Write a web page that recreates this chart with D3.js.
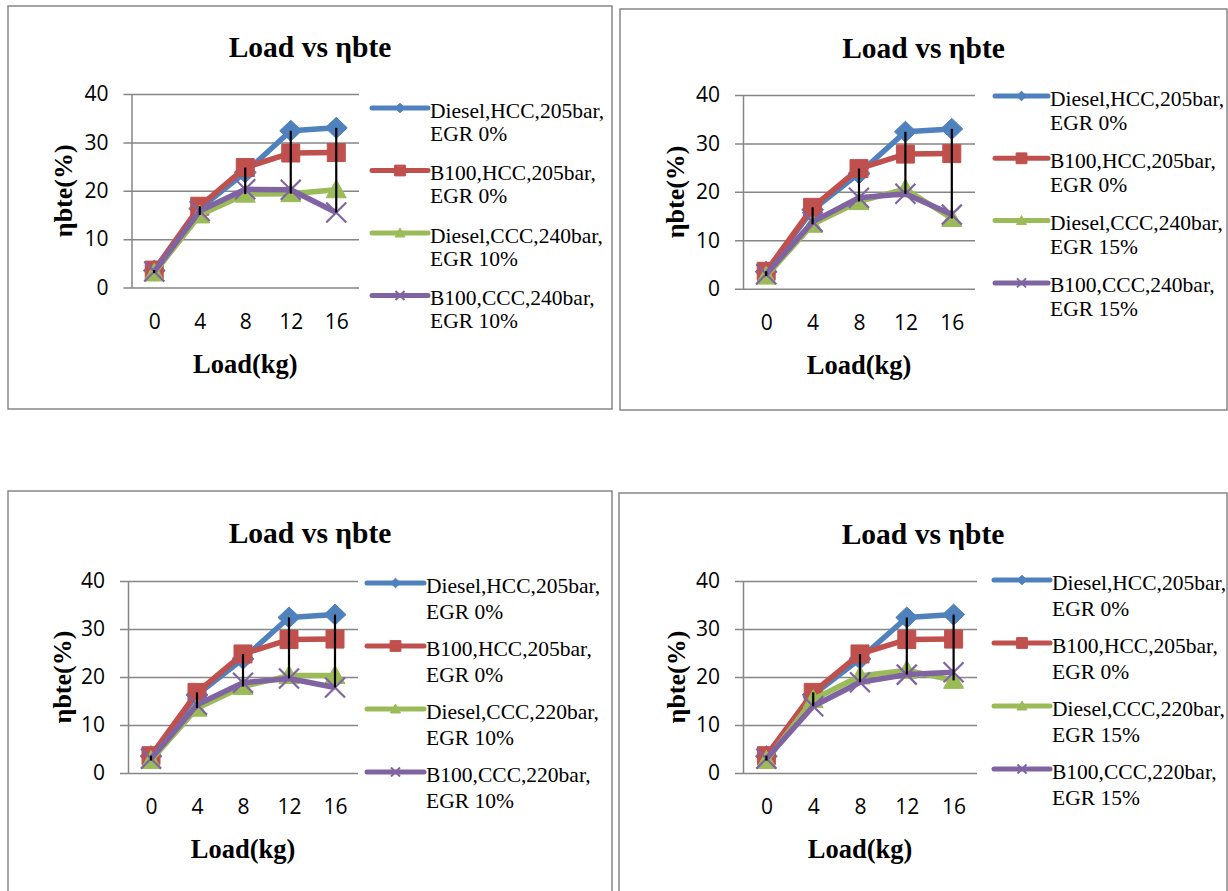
<!DOCTYPE html>
<html>
<head>
<meta charset="utf-8">
<script src="https://cdn.jsdelivr.net/npm/d3@7"></script>
<style>
  body { margin: 0; background: #fff; }
  svg { display: block; }
</style>
</head>
<body>
<svg id="chart" width="1228" height="891"></svg>
<script>
// loads on the x axis, efficiency values
const loads = [0, 4, 8, 12, 16];
const yTicks = [0, 10, 20, 30, 40];
const chartTitle = "Load vs ηbte";
const xTitle = "Load(kg)";
const yTitle = "ηbte(%)";

// the two HCC reference series are the same in all four charts
const dieselHcc = [3.5, 16.3, 23.8, 32.4, 33.0];
const b100Hcc = [3.6, 16.8, 24.8, 27.8, 27.9];

const dieselCcc240Egr10 = [3.0, 15.0, 19.3, 19.4, 20.2];
const b100Ccc240Egr10 = [3.3, 15.8, 20.3, 20.2, 15.5];
const dieselCcc240Egr15 = [2.6, 13.3, 18.0, 20.6, 14.5];
const b100Ccc240Egr15 = [3.0, 13.8, 18.8, 19.6, 15.3];
const dieselCcc220Egr10 = [2.6, 13.5, 18.0, 20.3, 20.3];
const b100Ccc220Egr10 = [3.0, 14.2, 18.8, 19.7, 17.8];
const dieselCcc220Egr15 = [2.6, 15.3, 20.2, 21.4, 19.3];
const b100Ccc220Egr15 = [3.0, 13.9, 18.9, 20.5, 21.0];

const namesP1 = ["Diesel,HCC,205bar, EGR 0%", "B100,HCC,205bar, EGR 0%", "Diesel,CCC,240bar, EGR 10%", "B100,CCC,240bar, EGR 10%"];
const namesP2 = ["Diesel,HCC,205bar, EGR 0%", "B100,HCC,205bar, EGR 0%", "Diesel,CCC,240bar, EGR 15%", "B100,CCC,240bar, EGR 15%"];
const namesP3 = ["Diesel,HCC,205bar, EGR 0%", "B100,HCC,205bar, EGR 0%", "Diesel,CCC,220bar, EGR 10%", "B100,CCC,220bar, EGR 10%"];
const namesP4 = ["Diesel,HCC,205bar, EGR 0%", "B100,HCC,205bar, EGR 0%", "Diesel,CCC,220bar, EGR 15%", "B100,CCC,220bar, EGR 15%"];

const colors = ["#4F81BD", "#C0504D", "#9BBB59", "#8064A2"];
const shapeNames = ["diamond", "square", "triangle", "x"];

let svg = d3.select("#chart");
let serif = "'Liberation Serif', 'Times New Roman', serif";
let sans = "'Open Sans', 'Liberation Sans', sans-serif";
let grey = "#868686";

let shapes = {
  diamond: r => `M0,${-r * 1.05}L${r * 1.1},0L0,${r * 1.05}L${-r * 1.1},0Z`,
  square: r => `M${-r * 0.9},${-r * 0.9}h${r * 1.8}v${r * 1.8}h${-r * 1.8}Z`,
  triangle: r => `M0,${-r}L${r},${r * 0.8}L${-r},${r * 0.8}Z`,
  x: r => `M${-r},${-r}L${r},${r}M${r},${-r}L${-r},${r}`
};

let panels = [
  { series: [dieselHcc, b100Hcc, dieselCcc240Egr10, b100Ccc240Egr10], names: namesP1,
    box: [8, 6, 612, 409], px: [131.5, 359], py: [94, 287.5], titleY: 47, yTitleX: 63,
    legX: [372, 428, 430], legY: 110, legStep: 62.5, lineGap: 23 },
  { series: [dieselHcc, b100Hcc, dieselCcc240Egr15, b100Ccc240Egr15], names: namesP2,
    box: [620, 9, 1227, 410], px: [743, 975], py: [95, 288.7], titleY: 48, yTitleX: 675,
    legX: [995, 1048, 1050], legY: 98, legStep: 62.3, lineGap: 24 },
  { series: [dieselHcc, b100Hcc, dieselCcc220Egr10, b100Ccc220Egr10], names: namesP3,
    box: [8, 491, 612, 905], px: [128, 358], py: [581, 773], titleY: 533, yTitleX: 62,
    legX: [367, 424, 426], legY: 585, legStep: 63, lineGap: 26 },
  { series: [dieselHcc, b100Hcc, dieselCcc220Egr15, b100Ccc220Egr15], names: namesP4,
    box: [619, 493, 1227, 905], px: [743, 977], py: [581, 773], titleY: 534, yTitleX: 676,
    legX: [994, 1050, 1052], legY: 582, legStep: 63, lineGap: 26 }
];

let drawPanel = (p) => {
  let g = svg.append("g");
  let [bx0, by0, bx1, by1] = p.box;
  g.append("rect")
    .attr("x", bx0).attr("y", by0)
    .attr("width", bx1 - bx0).attr("height", by1 - by0)
    .attr("fill", "#fff").attr("stroke", grey).attr("stroke-width", 1.5);

  let x = d3.scalePoint().domain(loads).range(p.px).padding(0.5);
  let y = d3.scaleLinear().domain([0, 40]).range([p.py[1], p.py[0]]);
  let w = p.px[1] - p.px[0];

  // grid lines, with the short outside tick on the left
  let grid = g.append("g").attr("transform", `translate(${p.px[0]},0)`)
    .call(d3.axisLeft(y).tickValues(yTicks).tickSize(-w).tickFormat(""));
  grid.select(".domain").remove();
  grid.selectAll("line").attr("stroke", grey).attr("stroke-width", 1.5).attr("x1", -8);

  let yAxis = g.append("g").attr("transform", `translate(${p.px[0]},0)`)
    .call(d3.axisLeft(y).tickValues(yTicks).tickSize(0).tickPadding(23));
  yAxis.select(".domain").attr("stroke", grey).attr("stroke-width", 1.5);
  yAxis.selectAll("text").attr("font-family", sans).attr("font-size", 21).attr("fill", "#000");

  let xAxis = g.append("g").attr("transform", `translate(0,${p.py[1]})`)
    .call(d3.axisBottom(x).tickSize(0).tickPadding(0));
  xAxis.select(".domain").remove();
  xAxis.selectAll("text").attr("font-family", sans).attr("font-size", 21).attr("fill", "#000")
    .attr("y", 34).attr("dy", "0.35em");

  // titles
  g.append("text").attr("x", (bx0 + bx1) / 2).attr("y", p.titleY).attr("dy", "0.35em")
    .attr("text-anchor", "middle").attr("font-family", serif).attr("font-weight", "bold")
    .attr("font-size", 29.5).text(chartTitle);
  g.append("text").attr("x", (p.px[0] + p.px[1]) / 2).attr("y", p.py[1] + 76).attr("dy", "0.35em")
    .attr("text-anchor", "middle").attr("font-family", serif).attr("font-weight", "bold")
    .attr("font-size", 26.5).text(xTitle);
  g.append("text").attr("transform", `translate(${p.yTitleX},${(p.py[0] + p.py[1]) / 2}) rotate(-90)`)
    .attr("dy", "0.35em").attr("text-anchor", "middle").attr("font-family", serif)
    .attr("font-weight", "bold").attr("font-size", 26).text(yTitle);

  // series, drawn one after the other
  let line = d3.line().x((d, i) => x(loads[i])).y(d => y(d));
  p.series.forEach((vals, s) => {
    let sg = g.append("g");
    sg.append("path").attr("d", line(vals)).attr("fill", "none")
      .attr("stroke", colors[s]).attr("stroke-width", 5.5).attr("stroke-linejoin", "round");
    sg.selectAll("path.m").data(vals).enter().append("path")
      .attr("class", "m")
      .attr("transform", (d, i) => `translate(${x(loads[i])},${y(d)})`)
      .attr("d", shapes[shapeNames[s]](10))
      .attr("fill", shapeNames[s] === "x" ? "none" : colors[s])
      .attr("stroke", colors[s])
      .attr("stroke-width", shapeNames[s] === "x" ? 2.2 : 1);
  });

  // high-low lines from the top series value to the bottom one at each load
  g.selectAll("line.hl").data(loads).enter().append("line")
    .attr("x1", d => x(d)).attr("x2", d => x(d))
    .attr("y1", (d, i) => y(d3.max(p.series, v => v[i])))
    .attr("y2", (d, i) => y(d3.min(p.series, v => v[i])))
    .attr("stroke", "#000").attr("stroke-width", 2.2);

  // legend
  let [lx0, lx1, tx] = p.legX;
  p.names.forEach((name, s) => {
    let cy = p.legY + s * p.legStep;
    g.append("line").attr("x1", lx0).attr("x2", lx1).attr("y1", cy - 2).attr("y2", cy - 2)
      .attr("stroke", colors[s]).attr("stroke-width", 5).attr("stroke-linecap", "round");
    let r = [4.5, 6, 5, 4.5][s];
    g.append("path").attr("transform", `translate(${(lx0 + lx1) / 2},${cy - 2})`)
      .attr("d", shapes[shapeNames[s]](r))
      .attr("fill", shapeNames[s] === "x" ? "none" : colors[s])
      .attr("stroke", colors[s]).attr("stroke-width", shapeNames[s] === "x" ? 2 : 1);
    let cut = name.indexOf(" ");
    let t = g.append("text").attr("font-family", serif).attr("font-size", 21.5).attr("fill", "#000");
    t.append("tspan").attr("x", tx).attr("y", cy).attr("dy", "0.35em").text(name.slice(0, cut));
    t.append("tspan").attr("x", tx).attr("y", cy + p.lineGap).attr("dy", "0.35em").text(name.slice(cut + 1));
  });
};

panels.forEach(drawPanel);
</script>
</body>
</html>
